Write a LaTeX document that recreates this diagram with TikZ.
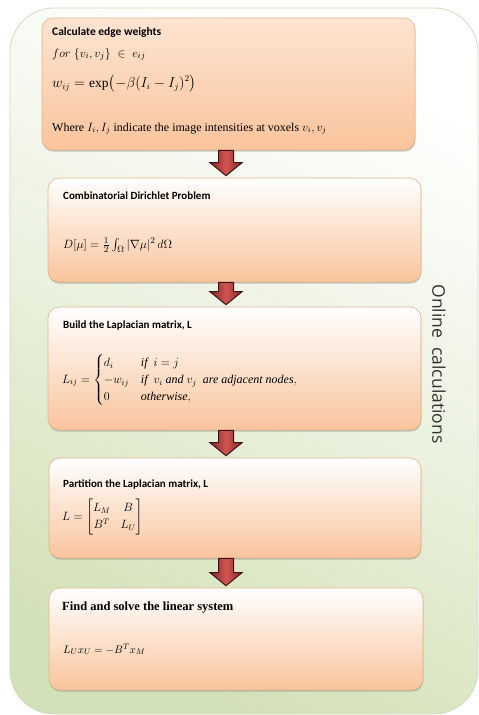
\documentclass[tikz,border=0pt]{standalone}
\usepackage{amsmath}
\usepackage{fontspec}
\setmainfont{Liberation Serif}
\newfontfamily\ttlfnt{Carlito}
\newfontfamily\sidefnt{Open Sans}
\usetikzlibrary{calc,shadows}
\definecolor{contTop}{HTML}{FFFFFF}
\definecolor{contBot}{HTML}{D3E1B8}
\definecolor{contEdge}{HTML}{D0DCC0}
\definecolor{boxEdge}{HTML}{E4B48C}
\definecolor{peachTop}{HTML}{FDE4D1}
\definecolor{peachBot}{HTML}{F9C49C}
\definecolor{whiteTop}{HTML}{FFFFFF}
\definecolor{arrFill}{HTML}{CF5552}
\definecolor{arrDark}{HTML}{8E2624}
\definecolor{arrEdge}{HTML}{3A1616}
\definecolor{labelGray}{HTML}{333333}
\newcommand{\bigdownarr}[2]{%
  \path[arrowbody] let \p1=(#1.south), \p2=(#2.north) in
    (218.5pt,\y1) -- (233.5pt,\y1) -- (233.5pt,\y2+15pt) -- (242pt,\y2+15pt)
    -- (226pt,\y2+2pt) -- (210pt,\y2+15pt) -- (218.5pt,\y2+15pt) -- cycle;}
\begin{document}
\begin{tikzpicture}[x=1pt,y=-1pt,
  container/.style={draw=contEdge, line width=0.8pt, rounded corners=44pt,
    top color=contTop, bottom color=contBot, middle color=contBot!45!white, shading angle=-25, inner sep=0pt},
  stepbox/.style={draw=boxEdge, line width=0.6pt, rounded corners=11pt, inner sep=0pt,
    drop shadow={shadow xshift=0.4pt, shadow yshift=-1.6pt, opacity=0.35, fill=black!60}},
  firstfill/.style={top color=peachTop, bottom color=peachBot},
  fadefill/.style={top color=whiteTop, bottom color=peachBot},
  ttl/.style={anchor=base west, inner sep=0pt, font=\ttlfnt\bfseries\fontsize{11}{13}\selectfont},
  ttlserif/.style={anchor=base west, inner sep=0pt, font=\bfseries\fontsize{12.5}{14}\selectfont},
  mth/.style={anchor=base west, inner sep=0pt, font=\fontsize{12}{14}\selectfont},
  mthc/.style={anchor=west, inner sep=0pt, font=\fontsize{12}{14}\selectfont},
  arrowbody/.style={draw=arrEdge, line width=1pt, left color=arrDark, right color=arrDark, middle color=arrFill}
]
\useasboundingbox (0,0) rectangle (479,715);
\node[container, minimum width=468pt, minimum height=706pt] (cont) at (244,361) {};
\node[rotate=-90, text=labelGray, inner sep=0pt, font=\sidefnt\fontsize{17.5}{20}\selectfont] (lab) at (439,364) {Online\ \ calculations};

\node[stepbox, firstfill, minimum width=373pt, minimum height=132pt] (b1) at (228.5,84) {};
\node[stepbox, fadefill, minimum width=373pt, minimum height=104pt] (b2) at (234.5,230) {};
\node[stepbox, fadefill, minimum width=373pt, minimum height=123pt] (b3) at (234.5,368.5) {};
\node[stepbox, fadefill, minimum width=372pt, minimum height=100pt] (b4) at (235,508) {};
\node[stepbox, fadefill, minimum width=374pt, minimum height=102pt] (b5) at (236,639) {};

\node[ttl, font=\ttlfnt\bfseries\fontsize{11.5}{13}\selectfont] (t1) at (52,35) {Calculate edge weights};
\node[mth, font=\fontsize{13}{15}\selectfont] (m1a) at (52,57) {$for\;\{v_i, v_j\}\;\in\; e_{ij}$};
\node[mth, font=\fontsize{13.5}{15}\selectfont] (m1b) at (52,87) {$w_{ij} = \exp\bigl(-\beta(I_i - I_j)^2\bigr)$};
\node[mth] (m1c) at (52,131) {Where $I_i, I_j$ indicate the image intensities at voxels $v_i, v_j$};

\node[ttl] (t2) at (63,199) {Combinatorial Dirichlet Problem};
\node[mth, font=\fontsize{12.5}{15}\selectfont] (m2) at (63,248) {$D[\mu] = \frac{1}{2}\int_{\Omega}|\nabla\mu|^2\,d\Omega$};

\node[ttl] (t3) at (63,328) {Build the Laplacian\ matrix, L};
\node[mthc] (m3) at (62,380) {\renewcommand{\arraystretch}{1.65}$L_{ij} = \begin{cases} d_i & \textit{if}\ \ i = j\\ -w_{ij} & \textit{if}\ \ v_i\ \textit{and}\ v_j\ \ \textit{are adjacent nodes},\\ 0 & \textit{otherwise},\end{cases}$};

\node[ttl] (t4) at (63,487) {Partition the Laplacian matrix, L};
\node[mthc] (m4) at (62,517) {\renewcommand{\arraystretch}{1.2}$L = \begin{bmatrix} L_M & B\\ B^T & L_U\end{bmatrix}$};

\node[ttlserif] (t5) at (62,610) {Find and solve the linear system};
\node[mth, font=\fontsize{11}{13}\selectfont] (m5) at (63,653) {$L_U x_U = -B^T x_M$};

\bigdownarr{b1}{b2}
\bigdownarr{b2}{b3}
\bigdownarr{b3}{b4}
\bigdownarr{b4}{b5}
\end{tikzpicture}
\end{document}
